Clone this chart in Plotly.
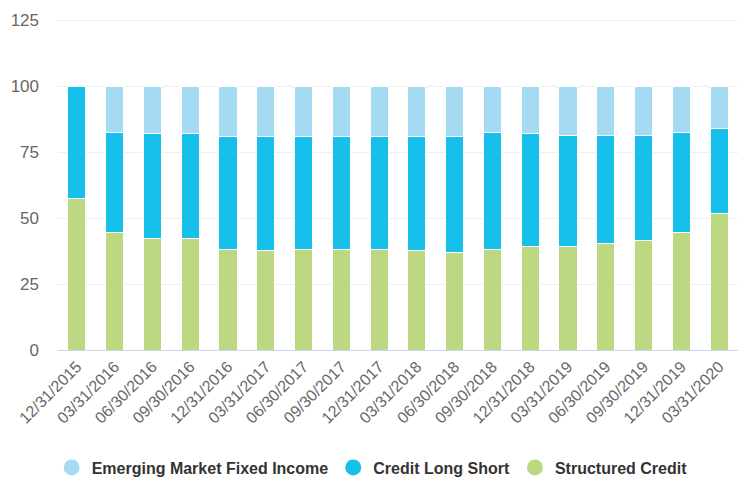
import plotly.graph_objects as go

dates = ["12/31/2015", "03/31/2016", "06/30/2016", "09/30/2016", "12/31/2016",
         "03/31/2017", "06/30/2017", "09/30/2017", "12/31/2017", "03/31/2018",
         "06/30/2018", "09/30/2018", "12/31/2018", "03/31/2019", "06/30/2019",
         "09/30/2019", "12/31/2019", "03/31/2020"]

structured_credit = [57.3, 44.6, 42.3, 42.3, 38.1, 37.6, 38.1, 38.1, 38.1, 37.6,
                     37.1, 38.1, 39.4, 39.4, 40.4, 41.4, 44.6, 51.8]
credit_long_short = [42.7, 37.9, 39.6, 39.7, 42.6, 43.1, 42.6, 42.6, 42.6, 43.1,
                     43.6, 44.4, 42.6, 42.0, 41.0, 40.0, 37.9, 32.2]
emerging_market = [0.0, 17.5, 18.1, 18.0, 19.3, 19.3, 19.3, 19.3, 19.3, 19.3,
                   19.3, 17.5, 18.0, 18.6, 18.6, 18.6, 17.5, 16.0]

series = [
    ("Structured Credit", structured_credit, "#BCD880"),
    ("Credit Long Short", credit_long_short, "#17BFEB"),
    ("Emerging Market Fixed Income", emerging_market, "#A5DAF3"),
]

FONT = "Liberation Sans, Arial, sans-serif"

fig = go.Figure()
for name, vals, color in series:
    fig.add_trace(go.Bar(
        x=dates, y=vals, name=name, showlegend=False,
        marker=dict(color=color, line=dict(color="white", width=1)),
    ))

for name, vals, color in reversed(series):
    fig.add_trace(go.Scatter(
        x=[None], y=[None], mode="markers", name=name,
        marker=dict(symbol="circle", size=17, color=color),
    ))

fig.update_layout(
    width=740, height=478,
    barmode="stack", bargap=0.52,
    plot_bgcolor="white", paper_bgcolor="white",
    margin=dict(l=58, r=2, t=19, b=128, autoexpand=False),
    font=dict(family=FONT, color="#666666"),
    xaxis=dict(
        type="category", tickangle=-45, tickfont=dict(size=16, color="#666666"),
        showgrid=False, showline=True, linecolor="#CCD6EB", linewidth=1,
        ticks="", ticklen=0, automargin=False,
    ),
    yaxis=dict(
        range=[0, 125.4], tickvals=[0, 25, 50, 75, 100, 125],
        tickfont=dict(size=17, color="#666666"),
        showgrid=True, gridcolor="#EEEEEE", gridwidth=1,
        zeroline=False, showline=False, ticks="", ticklabelstandoff=18,
        automargin=False,
    ),
    legend=dict(
        orientation="h", x=0.462, xanchor="center", y=-0.355, yanchor="middle",
        font=dict(size=16, color="#333333", family=FONT, weight="bold"),
        itemsizing="trace", traceorder="normal",
    ),
)

fig.write_html(
    "out.html",
    config={"displayModeBar": False},
    post_script="document.body.style.margin='0';document.body.style.overflow='hidden';",
)
